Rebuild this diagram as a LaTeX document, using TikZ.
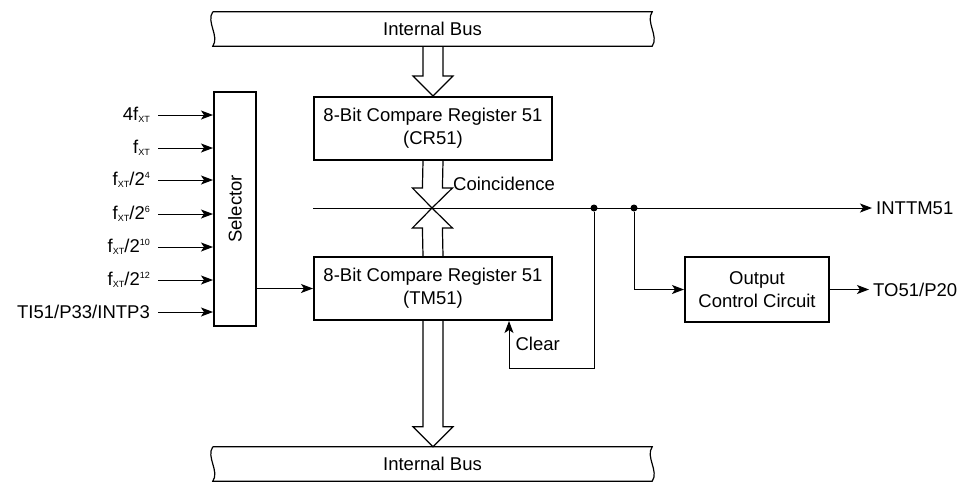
\documentclass[tikz,border=0pt]{standalone}
\usepackage{fontspec}
\setmainfont{Liberation Sans}
\usetikzlibrary{calc,arrows.meta}

\newcommand\fxt{f\raisebox{-2pt}{\fontsize{9}{9}\selectfont XT}}
\newcommand\pow[1]{\raisebox{7pt}{\fontsize{9}{9}\selectfont #1}}
% hollow bus arrow, #1 = start, #2 = tip
\newcommand\widearrow[2]{%
  \draw[busline] ($#1+(-10,0)$) -- ($#2!20pt!#1+(-10,0)$) -- ($#2!20pt!#1+(-20,0)$) -- #2
    -- ($#2!20pt!#1+(20,0)$) -- ($#2!20pt!#1+(10,0)$) -- ($#1+(10,0)$);}
% bus band with wavy ends
\newcommand\busoutline[1]{%
  \draw[busline] (#1.north west) -- (#1.north east) .. controls +(-7,10) and +(7,-10) .. (#1.south east)
    -- (#1.south west) .. controls +(7,-10) and +(-7,10) .. (#1.north west);}

\begin{document}
\begin{tikzpicture}[x=1pt,y=-1pt,
    every node/.style={font=\fontsize{18.5}{23}\selectfont},
    regbox/.style={draw, line width=2pt, minimum width=238, minimum height=63, align=center},
    busline/.style={line width=1.2pt, line join=miter},
    wire/.style={line width=1pt},
    sig/.style={wire, -{Stealth[length=12pt,width=9pt,inset=3pt]}},
    inlbl/.style={anchor=east, inner xsep=8pt},
    junc/.style={circle, fill, inner sep=0pt, minimum size=7pt}]
    \useasboundingbox (0,0) rectangle (964,483);

    % buses
    \node[minimum width=439, minimum height=34] (tbus) at (432.5,29) {Internal Bus};
    \node[minimum width=439, minimum height=34] (bbus) at (432.5,464) {Internal Bus};
    \busoutline{tbus}
    \busoutline{bbus}

    % registers
    \node[regbox] (cr) at (433,128.5) {8-Bit Compare Register 51\\(CR51)};
    \node[regbox] (tm) at (433,288.5) {8-Bit Compare Register 51\\(TM51)};
    \node[draw, line width=2pt, minimum width=42, minimum height=234] (sel) at (235,209) {\rotatebox{90}{Selector}};
    \node[draw, line width=2pt, minimum width=144, minimum height=65, align=center] (out) at (757,289.5) {Output\\Control Circuit};

    % inputs of the selector
    \foreach \y/\txt [count=\i] in {115/{4\fxt}, 148/{\fxt}, 180/{\fxt/2\pow{4}}, 214/{\fxt/2\pow{6}},
        247/{\fxt/2\pow{10}}, 280/{\fxt/2\pow{12}}, 312/{TI51/P33/INTP3}}{
        \node[inlbl] (in\i) at (158,\y) {\txt};
        \draw[sig] (in\i.east) -- (in\i.east -| sel.west);
    }
    \draw[sig] (tm.west -| sel.east) -- (tm.west);

    % coincidence line
    \coordinate (coin) at (432,208);
    \node[junc] (d1) at (594,208) {};
    \node[junc] (d2) at (634,208) {};
    \node[anchor=west, inner xsep=4pt] (int) at (872,208) {INTTM51};
    \draw[sig] (cr.west |- coin) -- (int.west);
    \node[anchor=west, inner sep=1pt] (coinlbl) at (452,184) {Coincidence};

    % bus arrows
    \coordinate (ta) at (tbus.south -| cr.north);
    \coordinate (ba) at (bbus.north -| tm.south);
    \coordinate (cs) at (cr.south);
    \coordinate (tn) at (tm.north);
    \coordinate (ts) at (tm.south);
    \coordinate (cn) at (cr.north);
    \widearrow{(ta)}{(cn)}
    \widearrow{(cs)}{(coin)}
    \widearrow{(tn)}{(coin)}
    \widearrow{(ts)}{(ba)}

    % clear path
    \coordinate (clr) at (509,368);
    \draw[sig] (d1) |- (clr) -- (clr |- tm.south);
    \node[anchor=west] (clrlbl) at (512,344) {Clear};

    % output control
    \node[anchor=west, inner xsep=4pt] (to) at (869,289.5) {TO51/P20};
    \draw[sig] (d2) |- (out.west);
    \draw[sig] (out.east) -- (to.west);
\end{tikzpicture}
\end{document}
